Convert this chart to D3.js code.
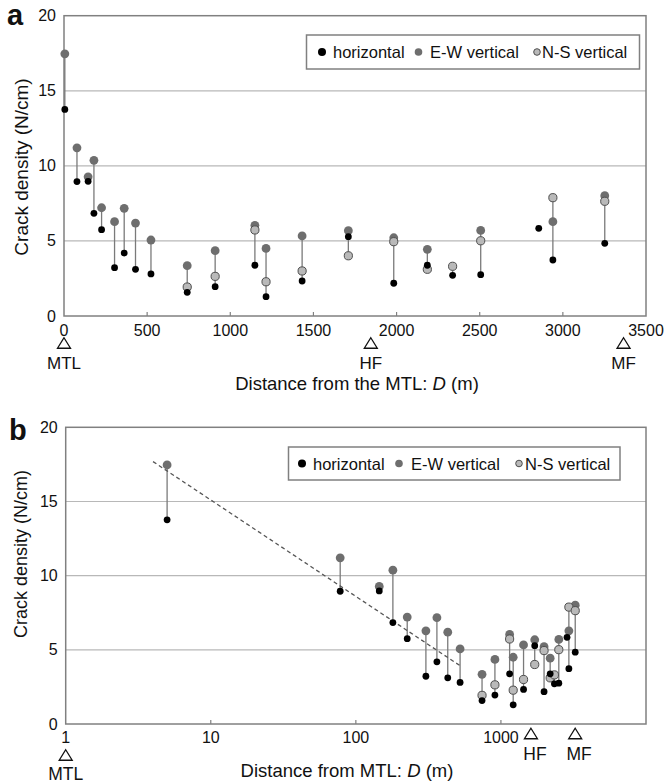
<!DOCTYPE html>
<html>
<head>
<meta charset="utf-8">
<script src="https://cdn.jsdelivr.net/npm/d3@7"></script>
<style>
  html, body { margin: 0; padding: 0; background: #fff; }
  svg { display: block; }
  text { font-family: "Liberation Sans", Arial, Helvetica, sans-serif; fill: #111; }
</style>
</head>
<body>
<svg id="chart" width="666" height="784"></svg>
<script>
// Crack density measured at each outcrop, by distance from the MTL (m)
const distance   = [5, 78, 145, 180, 226, 304, 362, 430, 523, 741, 909, 1148, 1215, 1432, 1710, 1983, 2185, 2337, 2506, 2855, 2940, 3252];
const horizontal = [13.76, 8.95, 8.97, 6.84, 5.75, 3.22, 4.19, 3.11, 2.80, 1.58, 1.95, 3.38, 1.29, 2.33, 5.28, 2.18, 3.38, 2.71, 2.75, 5.84, 3.73, 4.84];
const ewVertical = [17.46, 11.2, 9.27, 10.37, 7.21, 6.28, 7.17, 6.19, 5.06, 3.35, 4.35, 6.04, 4.50, 5.33, 5.68, 5.21, 4.44, null, 5.70, null, 6.28, 8.01];
const nsVertical = [null, null, null, null, null, null, null, null, null, 1.93, 2.64, 5.73, 2.28, 3.00, 4.01, 4.95, 3.11, 3.31, 5.01, null, 7.88, 7.64];

// Log-linear fit of the near-fault decay: density = a + b * log10(D)
const trendRange = [4, 520];
const trendIntercept = 21.6;
const trendSlope = -6.5;

// Fault markers along the traverse
const faultNames = ["MTL", "HF", "MF"];
const faultDistLinear = [0, 1845, 3365];
const faultDistLog = [1, 1610, 3250];

// Axis ticks
const yTicks = [0, 5, 10, 15, 20];
const yGrid = [5, 10, 15];
const xTicksLinear = [0, 500, 1000, 1500, 2000, 2500, 3000, 3500];
const xTicksLog = [1, 10, 100, 1000];

const series = [
  { name: "horizontal",  values: horizontal },
  { name: "E-W vertical", values: ewVertical },
  { name: "N-S vertical", values: nsVertical }
];

const rows = distance.map((d, i) => ({
  d, h: horizontal[i], ew: ewVertical[i], ns: nsVertical[i]
}));

const col = {
  frame: "#808080",
  grid: "#b8b8b8",
  stem: "#7a7a7a",
  h: "#000000",
  ew: "#6e6e6e",
  ns: "#b9b9b9",
  nsStroke: "#4e4e4e"
};

const svg = d3.select("#chart");

function drawPanel(opt) {
  const { x, y, letter, letterPos, yTitleY, yTitleSize, legendBox, legendItems } = opt;
  const g = svg.append("g");
  const [x0, x1] = x.range();
  const [yb, yt] = y.range();

  // horizontal gridlines
  g.selectAll("line.grid").data(yGrid).join("line")
    .attr("x1", x0).attr("x2", x1)
    .attr("y1", d => y(d)).attr("y2", d => y(d))
    .attr("stroke", col.grid).attr("stroke-width", 1.2);

  // plot frame
  g.append("rect")
    .attr("x", x0).attr("y", yt).attr("width", x1 - x0).attr("height", yb - yt)
    .attr("fill", "none").attr("stroke", col.frame).attr("stroke-width", 1.5);

  // y tick labels
  g.selectAll("text.ytick").data(yTicks).join("text")
    .attr("x", x0 - 8).attr("y", d => y(d))
    .attr("text-anchor", "end").attr("dominant-baseline", "central")
    .attr("font-size", 16).text(d => d);

  // y title
  g.append("text")
    .attr("transform", `translate(21,${yTitleY}) rotate(-90)`)
    .attr("text-anchor", "middle").attr("dominant-baseline", "central")
    .attr("font-size", yTitleSize).text("Crack density (N/cm)");

  // panel letter
  g.append("text")
    .attr("x", letterPos[0]).attr("y", letterPos[1])
    .attr("font-size", 29).attr("font-weight", "bold").text(letter);

  // stems joining the measurements at each site
  g.selectAll("line.stem").data(rows).join("line")
    .attr("x1", d => x(d.d)).attr("x2", d => x(d.d))
    .attr("y1", d => y(d3.min([d.h, d.ew, d.ns].filter(v => v != null))))
    .attr("y2", d => y(d3.max([d.h, d.ew, d.ns].filter(v => v != null))))
    .attr("stroke", col.stem).attr("stroke-width", 1.3);

  if (opt.trend) opt.trend(g);

  // E-W vertical
  g.selectAll("circle.ew").data(rows.filter(r => r.ew != null)).join("circle")
    .attr("cx", d => x(d.d)).attr("cy", d => y(d.ew)).attr("r", 4.4)
    .attr("fill", col.ew);
  // N-S vertical
  g.selectAll("circle.ns").data(rows.filter(r => r.ns != null)).join("circle")
    .attr("cx", d => x(d.d)).attr("cy", d => y(d.ns)).attr("r", 4.1)
    .attr("fill", col.ns).attr("stroke", col.nsStroke).attr("stroke-width", 1);
  // horizontal
  g.selectAll("circle.h").data(rows.filter(r => r.h != null)).join("circle")
    .attr("cx", d => x(d.d)).attr("cy", d => y(d.h)).attr("r", 3.4)
    .attr("fill", col.h);

  // legend
  g.append("rect")
    .attr("x", legendBox[0]).attr("y", legendBox[1])
    .attr("width", legendBox[2]).attr("height", legendBox[3])
    .attr("fill", "#fff").attr("stroke", col.frame).attr("stroke-width", 1.5);
  const ly = legendBox[1] + legendBox[3] / 2;
  const styles = [
    { fill: col.h, stroke: "none", r: 4 },
    { fill: col.ew, stroke: "none", r: 3.8 },
    { fill: col.ns, stroke: col.nsStroke, r: 3.3 }
  ];
  series.forEach((s, i) => {
    const it = legendItems[i];
    g.append("circle").attr("cx", it[0]).attr("cy", ly).attr("r", styles[i].r)
      .attr("fill", styles[i].fill).attr("stroke", styles[i].stroke).attr("stroke-width", 1);
    g.append("text").attr("x", it[1]).attr("y", ly)
      .attr("dominant-baseline", "central").attr("font-size", 16.5).text(s.name);
  });
  return g;
}

function triangle(g, cx, cy) {
  const w = 6.5, h = 10.5;
  g.append("path")
    .attr("d", `M${cx},${cy - h / 2} L${cx + w},${cy + h / 2} L${cx - w},${cy + h / 2} Z`)
    .attr("fill", "#fff").attr("stroke", "#111").attr("stroke-width", 1.3)
    .attr("stroke-linejoin", "miter");
}

function xTitle(g, x, y, label) {
  const t = g.append("text").attr("x", x).attr("y", y)
    .attr("text-anchor", "middle").attr("font-size", 18.5);
  t.append("tspan").text(label);
  t.append("tspan").attr("font-style", "italic").text("D");
  t.append("tspan").text(" (m)");
}

// ---------- panel a: linear distance ----------
const xa = d3.scaleLinear().domain([0, 3500]).range([64, 646]);
const ya = d3.scaleLinear().domain([0, 20]).range([316, 15.7]);
const ga = drawPanel({
  x: xa, y: ya, letter: "a", letterPos: [7, 25], yTitleY: 167, yTitleSize: 19,
  legendBox: [306.5, 35, 333, 34],
  legendItems: [[322, 333], [418.5, 430], [537, 542]]
});
ga.selectAll("line.xt").data(xTicksLinear.slice(1, -1)).join("line")
  .attr("x1", d => xa(d)).attr("x2", d => xa(d))
  .attr("y1", 316).attr("y2", 312)
  .attr("stroke", col.frame).attr("stroke-width", 1.2);
ga.selectAll("text.xt").data(xTicksLinear).join("text")
  .attr("x", d => xa(d)).attr("y", 330)
  .attr("text-anchor", "middle").attr("dominant-baseline", "central")
  .attr("font-size", 16).text(d => d);
faultNames.forEach((n, i) => {
  const fx = xa(faultDistLinear[i]);
  triangle(ga, fx, 343);
  ga.append("text").attr("x", fx).attr("y", 363)
    .attr("text-anchor", "middle").attr("dominant-baseline", "central")
    .attr("font-size", 17).text(n);
});
xTitle(ga, 357, 390, "Distance from the MTL: ");

// ---------- panel b: log distance ----------
const xb = d3.scaleLog().domain([1, 10000]).range([65.7, 646]);
const yb = d3.scaleLinear().domain([0, 20]).range([724, 427.3]);
const gb = drawPanel({
  x: xb, y: yb, letter: "b", letterPos: [9, 440], yTitleY: 554, yTitleSize: 18,
  legendBox: [288.5, 447, 331.5, 33],
  legendItems: [[302, 313], [399, 411], [519, 525]],
  trend: g => {
    g.append("path")
      .datum(trendRange)
      .attr("d", d3.line()
        .x(d => xb(d))
        .y(d => yb(trendIntercept + trendSlope * Math.log10(d))))
      .attr("fill", "none").attr("stroke", "#555")
      .attr("stroke-width", 1.3).attr("stroke-dasharray", "4,3");
  }
});
gb.selectAll("line.xt").data(xTicksLog.slice(1)).join("line")
  .attr("x1", d => xb(d)).attr("x2", d => xb(d))
  .attr("y1", 724).attr("y2", 720)
  .attr("stroke", col.frame).attr("stroke-width", 1.2);
gb.selectAll("text.xt").data(xTicksLog).join("text")
  .attr("x", d => xb(d)).attr("y", 737)
  .attr("text-anchor", "middle").attr("dominant-baseline", "central")
  .attr("font-size", 16).text(d => d);
faultNames.forEach((n, i) => {
  const fx = xb(faultDistLog[i]);
  const low = i === 0;
  triangle(gb, fx, low ? 755 : 733.5);
  gb.append("text").attr("x", fx + (low ? 0 : 4)).attr("y", low ? 773.5 : 753.5)
    .attr("text-anchor", "middle").attr("dominant-baseline", "central")
    .attr("font-size", 17.5).text(n);
});
xTitle(gb, 347, 777, "Distance from MTL: ");
</script>
</body>
</html>
